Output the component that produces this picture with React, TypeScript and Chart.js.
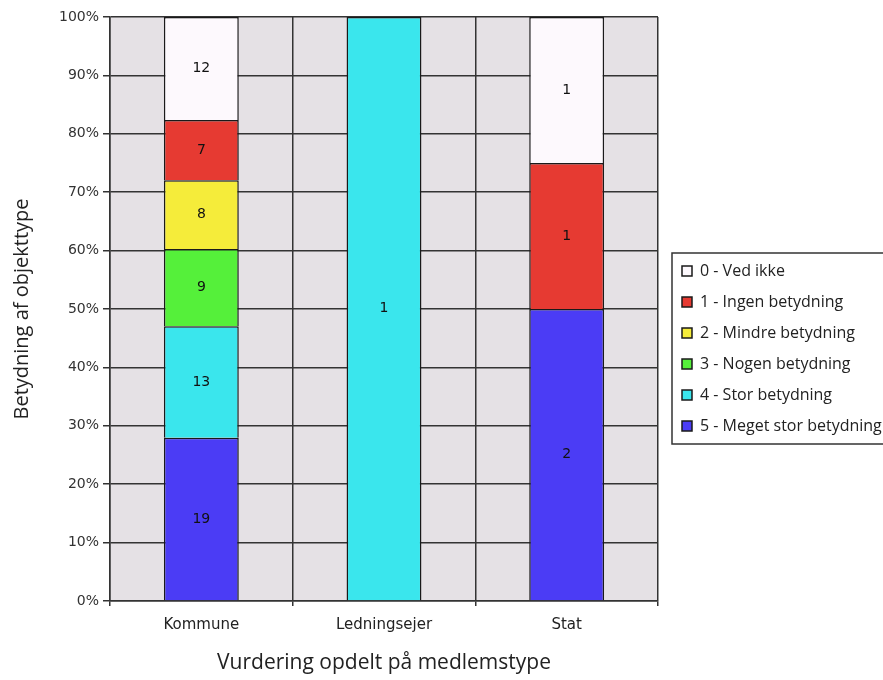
import React, { useEffect, useRef } from "react";
import { Chart, registerables } from "chart.js";

Chart.register(...registerables);

const categories = ["Kommune", "Ledningsejer", "Stat"];
const seriesNames = [
  "5 - Meget stor betydning",
  "4 - Stor betydning",
  "3 - Nogen betydning",
  "2 - Mindre betydning",
  "1 - Ingen betydning",
  "0 - Ved ikke",
];
const counts5 = [19, 0, 2];
const counts4 = [13, 1, 0];
const counts3 = [9, 0, 0];
const counts2 = [8, 0, 0];
const counts1 = [7, 0, 1];
const counts0 = [12, 0, 1];
const seriesColors = ["#4b3cf5", "#3ae6ed", "#55f03a", "#f5ec3a", "#e63a32", "#fdf9fd"];
const yTicks = [0, 10, 20, 30, 40, 50, 60, 70, 80, 90, 100];

const allCounts = [counts5, counts4, counts3, counts2, counts1, counts0];
const totals = categories.map((_, j) => allCounts.reduce((s, arr) => s + arr[j], 0));

const bgPlugin = {
  id: "plotBg",
  beforeDraw(chart: any) {
    const { ctx, chartArea } = chart;
    ctx.save();
    ctx.fillStyle = "#e5e1e5";
    ctx.fillRect(chartArea.left, chartArea.top, chartArea.right - chartArea.left, chartArea.bottom - chartArea.top);
    ctx.restore();
  },
};

const labelPlugin = {
  id: "countLabels",
  afterDatasetsDraw(chart: any) {
    const { ctx } = chart;
    ctx.save();
    ctx.font = "14px 'DejaVu Sans'";
    ctx.fillStyle = "#111";
    ctx.textAlign = "center";
    ctx.textBaseline = "middle";
    chart.data.datasets.forEach((ds: any, i: number) => {
      const meta = chart.getDatasetMeta(i);
      meta.data.forEach((el: any, j: number) => {
        const c = ds.counts[j];
        if (!c) return;
        ctx.fillText(String(c), el.x, (el.y + el.base) / 2);
      });
    });
    ctx.restore();
  },
};

const legendFramePlugin = {
  id: "legendFrame",
  afterDraw(chart: any) {
    const lg = chart.legend;
    if (!lg || !lg.legendHitBoxes || !lg.legendHitBoxes.length) return;
    const hb = lg.legendHitBoxes;
    let minTop = Infinity, maxBottom = -Infinity, minLeft = Infinity;
    hb.forEach((h: any) => {
      minTop = Math.min(minTop, h.top);
      maxBottom = Math.max(maxBottom, h.top + h.height);
      minLeft = Math.min(minLeft, h.left);
    });
    const { ctx } = chart;
    ctx.save();
    ctx.strokeStyle = "#333";
    ctx.lineWidth = 1.5;
    ctx.strokeRect(minLeft - 10, minTop - 10, chart.width + 20 - (minLeft - 10), maxBottom - minTop + 20);
    ctx.restore();
  },
};

export default function App() {
  const ref = useRef<HTMLCanvasElement | null>(null);
  useEffect(() => {
    if (!ref.current) return;
    Chart.defaults.font.family = "'DejaVu Sans'";
    const datasets = allCounts.map((arr, i) => ({
      label: seriesNames[i],
      data: arr.map((v, j) => (v / totals[j]) * 100),
      counts: arr,
      backgroundColor: seriesColors[i],
      borderColor: "#1a1a1a",
      borderWidth: 1.5,
      barPercentage: 0.41,
      categoryPercentage: 1,
      yAxisID: "y",
    }));
    const chart = new Chart(ref.current, {
      type: "bar",
      data: { labels: categories, datasets: datasets as any },
      plugins: [bgPlugin, labelPlugin, legendFramePlugin],
      options: {
        animation: false,
        responsive: true,
        maintainAspectRatio: false,
        layout: { padding: { top: 17, right: 11, bottom: 0, left: 0 } },
        plugins: {
          tooltip: { enabled: false },
          legend: {
            position: "right",
            reverse: true,
            maxWidth: 217,
            labels: {
              boxWidth: 10,
              boxHeight: 10,
              padding: 15,
              color: "#222",
              font: { family: "'Open Sans'", size: 16 },
            },
          },
        },
        scales: {
          x: {
            stacked: true,
            offset: true,
            grid: {
              display: true,
              offset: true,
              color: "#333",
              lineWidth: 1.5,
              tickLength: 5,
              drawOnChartArea: true,
            },
            border: { display: true, color: "#333", width: 1.5 },
            ticks: { color: "#222", font: { size: 15 }, padding: 10 },
            title: {
              display: true,
              text: "Vurdering opdelt på medlemstype",
              color: "#222",
              font: { family: "'Open Sans'", size: 21 },
              padding: { top: 20, bottom: 4 },
            },
            afterFit: (s: any) => {
              s.height = 79;
            },
          },
          y: {
            stacked: true,
            min: 0,
            max: 100,
            afterBuildTicks: (s: any) => {
              s.ticks = yTicks.map((v) => ({ value: v }));
            },
            grid: { color: "#333", lineWidth: 1.5, tickLength: 7 },
            border: { display: true, color: "#333", width: 1.5 },
            ticks: {
              color: "#333",
              font: { size: 14 },
              padding: 4,
              callback: (v: any) => `${v}%`,
            },
            title: {
              display: true,
              text: "Betydning af objekttype",
              color: "#222",
              font: { family: "'Open Sans'", size: 20 },
              padding: { top: 10, bottom: 20 },
            },
            afterFit: (s: any) => {
              s.width = 110;
            },
          },
          y2: {
            position: "right",
            display: true,
            grid: { display: false, drawTicks: false },
            border: { display: false },
            ticks: { display: false },
            afterFit: (s: any) => {
              s.width = 9;
            },
          },
        },
      } as any,
    });
    return () => chart.destroy();
  }, []);
  return (
    <div style={{ position: "absolute", left: 0, top: 0, width: 883, height: 680, overflow: "hidden", background: "#fff" }}>
      <div style={{ position: "relative", width: 895, height: 680 }}>
        <canvas ref={ref} />
      </div>
    </div>
  );
}
